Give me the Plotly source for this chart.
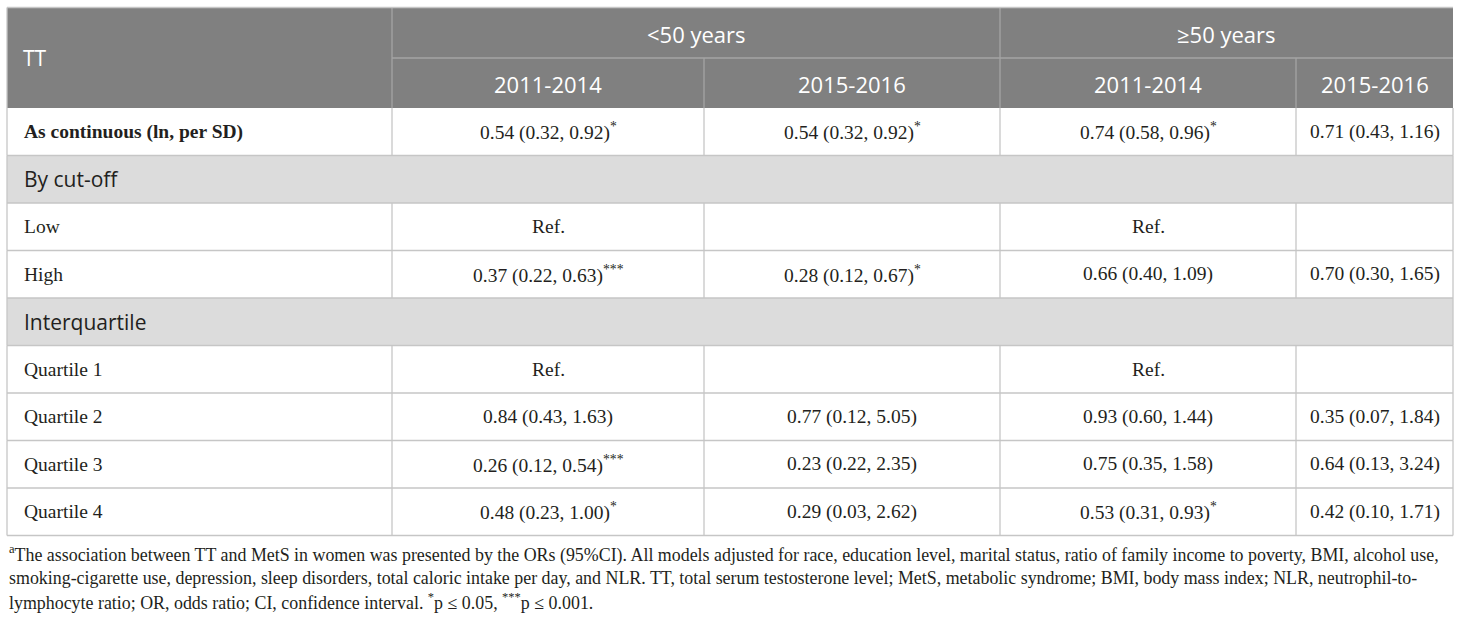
import plotly.graph_objects as go

# table content
row_labels = ["As continuous (ln, per SD)", "By cut-off", "Low", "High", "Interquartile",
              "Quartile 1", "Quartile 2", "Quartile 3", "Quartile 4"]
section_rows = [1, 4]
age_groups = ["<50 years", "≥50 years"]
periods = ["2011-2014", "2015-2016", "2011-2014", "2015-2016"]

young_2011 = ["0.54 (0.32, 0.92)*", "", "Ref.", "0.37 (0.22, 0.63)***", "", "Ref.",
              "0.84 (0.43, 1.63)", "0.26 (0.12, 0.54)***", "0.48 (0.23, 1.00)*"]
young_2015 = ["0.54 (0.32, 0.92)*", "", "", "0.28 (0.12, 0.67)*", "", "",
              "0.77 (0.12, 5.05)", "0.23 (0.22, 2.35)", "0.29 (0.03, 2.62)"]
old_2011 = ["0.74 (0.58, 0.96)*", "", "Ref.", "0.66 (0.40, 1.09)", "", "Ref.",
            "0.93 (0.60, 1.44)", "0.75 (0.35, 1.58)", "0.53 (0.31, 0.93)*"]
old_2015 = ["0.71 (0.43, 1.16)", "", "", "0.70 (0.30, 1.65)", "", "",
            "0.35 (0.07, 1.84)", "0.64 (0.13, 3.24)", "0.42 (0.10, 1.71)"]

footnote = [
    "<sup>a</sup>The association between TT and MetS in women was presented by the ORs (95%CI). All models adjusted for race, "
    "education level, marital status, ratio of family income to poverty, BMI, alcohol use,",
    "smoking-cigarette use, depression, sleep disorders, total caloric intake per day, and NLR. TT, total serum testosterone "
    "level; MetS, metabolic syndrome; BMI, body mass index; NLR, neutrophil-to-",
    "lymphocyte ratio; OR, odds ratio; CI, confidence interval. <sup>*</sup>p ≤ 0.05, <sup>***</sup>p ≤ 0.001.",
]

# layout geometry (pixel units on the hidden axes)
col_edges = [7, 392, 704, 1000, 1296, 1453]
hdr_top, hdr_mid, hdr_bot = 7.5, 58, 108
row_h = 47.5

HDR_BG = "#808080"
SEC_BG = "#dcdcdc"
GRID = "#c6c6c6"
TXT = "#231f20"
SANS = "Open Sans"
SERIF = "Liberation Serif"


def sup_stars(s):
    stripped = s.rstrip("*")
    n = len(s) - len(stripped)
    return stripped + ("<sup>" + "*" * n + "</sup>" if n else "")


def row_top(i):
    return hdr_bot + i * row_h


shapes = []
annotations = []


def hline(y, x0, x1, color=GRID, w=1.3):
    shapes.append(dict(type="line", x0=x0, x1=x1, y0=y, y1=y, line=dict(color=color, width=w)))


def vline(x, y0, y1, color=GRID, w=1.3):
    shapes.append(dict(type="line", x0=x, x1=x, y0=y0, y1=y1, line=dict(color=color, width=w)))


# header block
shapes.append(dict(type="rect", x0=col_edges[0], x1=col_edges[-1], y0=hdr_top, y1=hdr_bot,
                   fillcolor=HDR_BG, line=dict(width=0), layer="below"))
hline(hdr_mid, col_edges[1], col_edges[-1], color="#a4a4a4")
for x in (col_edges[1], col_edges[3]):
    vline(x, hdr_top, hdr_bot, color="#a4a4a4")
for x in (col_edges[2], col_edges[4]):
    vline(x, hdr_mid, hdr_bot, color="#a4a4a4")

annotations.append(dict(x=col_edges[0] + 14, y=(hdr_top + hdr_bot) / 2, text="TT", xanchor="left",
                        yanchor="middle", font=dict(family=SANS, size=21, color="white")))
for g, name in enumerate(age_groups):
    annotations.append(dict(x=(col_edges[1 + 2 * g] + col_edges[3 + 2 * g]) / 2, y=(hdr_top + hdr_mid) / 2 + 1,
                            text=name, xanchor="center", yanchor="middle",
                            font=dict(family=SANS, size=22, color="white")))
for c, name in enumerate(periods):
    annotations.append(dict(x=(col_edges[1 + c] + col_edges[2 + c]) / 2, y=(hdr_mid + hdr_bot) / 2 + 1,
                            text=name, xanchor="center", yanchor="middle",
                            font=dict(family=SANS, size=22, color="white")))

# body rows
columns = [young_2011, young_2015, old_2011, old_2015]
for i, label in enumerate(row_labels):
    y0, y1 = row_top(i), row_top(i + 1)
    yc = (y0 + y1) / 2
    if i in section_rows:
        shapes.append(dict(type="rect", x0=col_edges[0], x1=col_edges[-1], y0=y0, y1=y1,
                           fillcolor=SEC_BG, line=dict(width=0), layer="below"))
        annotations.append(dict(x=col_edges[0] + 15, y=yc, text=label, xanchor="left", yanchor="middle",
                                font=dict(family=SANS, size=21, color=TXT)))
        vline(col_edges[0], y0, y1)
        vline(col_edges[-1], y0, y1)
    else:
        txt = "<b>" + label + "</b>" if i == 0 else label
        annotations.append(dict(x=col_edges[0] + 15, y=yc, text=txt, xanchor="left", yanchor="middle",
                                font=dict(family=SERIF, size=19.5, color=TXT)))
        for c, vals in enumerate(columns):
            if vals[i]:
                annotations.append(dict(x=(col_edges[c + 1] + col_edges[c + 2]) / 2, y=yc,
                                        text=sup_stars(vals[i]), xanchor="center", yanchor="middle",
                                        font=dict(family=SERIF, size=19.5, color=TXT)))
        for x in col_edges:
            vline(x, y0, y1)
    hline(y1, col_edges[0], col_edges[-1])
vline(col_edges[0], hdr_top, hdr_bot)
hline(hdr_top, col_edges[0], col_edges[-1])

# footnote
for k, line in enumerate(footnote):
    annotations.append(dict(x=col_edges[0], y=554 + k * 23.5, text=line, xanchor="left", yanchor="middle",
                            font=dict(family=SERIF, size=17.9, color=TXT)))

for a in annotations:
    a.update(xref="x", yref="y", showarrow=False)
for s in shapes:
    s.update(xref="x", yref="y")

fig = go.Figure()
fig.update_layout(
    width=1460, height=619,
    margin=dict(l=0, r=0, t=0, b=0),
    paper_bgcolor="white", plot_bgcolor="white",
    xaxis=dict(range=[0, 1460], visible=False, fixedrange=True),
    yaxis=dict(range=[619, 0], visible=False, fixedrange=True),
    shapes=shapes, annotations=annotations,
    showlegend=False,
)
fig.write_html("out.html", config={"displayModeBar": False},
               post_script="document.body.style.margin='0px';")
